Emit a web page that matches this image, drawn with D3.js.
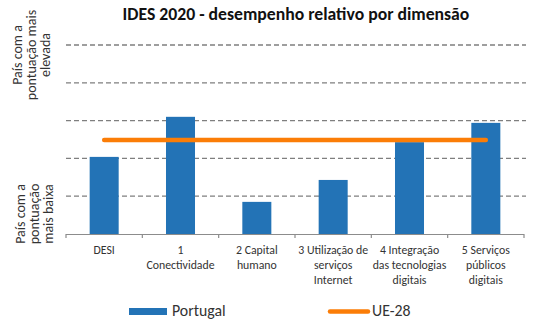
<!DOCTYPE html>
<html><head><meta charset="utf-8">
<script src="https://cdn.jsdelivr.net/npm/d3@7"></script>
<style>body{margin:0;background:#fff}svg{display:block}</style>
</head><body>
<script>
const categories = [
  ["DESI"],
  ["1", "Conectividade"],
  ["2 Capital", "humano"],
  ["3 Utilização de", "serviços", "Internet"],
  ["4 Integração", "das tecnologias", "digitais"],
  ["5 Serviços", "públicos", "digitais"]
];
const portugal = [2.04, 3.1, 0.85, 1.43, 2.43, 2.94];
const ue28 = [2.49, 2.49, 2.49, 2.49, 2.49, 2.49];
const yTicks = [1, 2, 3, 4, 5];
const title = "IDES 2020 - desempenho relativo por dimensão";
const seriesNames = ["Portugal", "UE-28"];

(function () {
const W = 533, H = 327;
const font = "Carlito, Calibri, 'Open Sans', sans-serif";
const svg = d3.select("body").append("svg").attr("width", W).attr("height", H)
  .style("font-family", font);

const mLeft = 66, mRight = 524, mTop = 45, mBottom = 234;
const x = d3.scaleBand().domain(d3.range(categories.length)).range([mLeft, mRight]).paddingInner(0.62).paddingOuter(0.31);
const xb = d3.scaleBand().domain(d3.range(categories.length)).range([mLeft, mRight]);
const y = d3.scaleLinear().domain([0, 5]).range([mBottom, mTop]);

svg.append("text").attr("x", 296).attr("y", 20).attr("text-anchor", "middle")
  .attr("font-weight", "bold").attr("font-size", 17.7).attr("fill", "#111").text(title);

svg.append("g").selectAll("line").data(yTicks).join("line")
  .attr("x1", mLeft).attr("x2", 526).attr("y1", d => y(d)).attr("y2", d => y(d))
  .attr("stroke", "#7f7f7f").attr("stroke-width", 1.3).attr("stroke-dasharray", "5,3");

svg.append("g").selectAll("rect").data(portugal).join("rect")
  .attr("x", (d, i) => x(i)).attr("width", x.bandwidth())
  .attr("y", d => y(d)).attr("height", d => y(0) - y(d))
  .attr("fill", "#2373b6");

const ax = svg.append("g");
ax.append("line").attr("x1", mLeft).attr("x2", mRight).attr("y1", mBottom + 0.5).attr("y2", mBottom + 0.5)
  .attr("stroke", "#8c8c8c").attr("stroke-width", 1.2);
ax.selectAll("line.t").data(d3.range(categories.length + 1)).join("line").attr("class", "t")
  .attr("x1", i => i < categories.length ? xb(i) : mRight).attr("x2", i => i < categories.length ? xb(i) : mRight)
  .attr("y1", mBottom).attr("y2", mBottom + 4).attr("stroke", "#8c8c8c").attr("stroke-width", 1.2);

const line = d3.line().x((d, i) => x(i) + x.bandwidth() / 2).y(d => y(d));
svg.append("path").datum(ue28).attr("d", line).attr("fill", "none")
  .attr("stroke", "#fb7d07").attr("stroke-width", 4.5).attr("stroke-linecap", "round");

const lab = svg.append("g").attr("font-size", 11.8).attr("fill", "#333").attr("text-anchor", "middle");
categories.forEach((lines, i) => {
  const t = lab.append("text").attr("x", xb(i) + xb.bandwidth() / 2).attr("y", 254);
  lines.forEach((s, j) => t.append("tspan").attr("x", xb(i) + xb.bandwidth() / 2).attr("dy", j ? 15 : 0).text(s));
});

function sideLabel(lines, cx, cy) {
  const t = svg.append("text").attr("transform", `translate(${cx},${cy}) rotate(-90)`)
    .attr("text-anchor", "middle").attr("font-size", 14).attr("fill", "#333");
  lines.forEach((s, j) => t.append("tspan").attr("x", 0).attr("dy", j ? 14 : 0).text(s));
}
sideLabel(["País com a", "pontuação mais", "elevada"], 22, 55);
sideLabel(["País com a", "pontuação", "mais baixa"], 25, 214);

const lg = svg.append("g").attr("font-size", 15.8).attr("fill", "#333");
lg.append("rect").attr("x", 129).attr("y", 308).attr("width", 38).attr("height", 7).attr("fill", "#2373b6");
lg.append("text").attr("x", 172).attr("y", 316).text(seriesNames[0]);
lg.append("line").attr("x1", 330).attr("x2", 368).attr("y1", 311.5).attr("y2", 311.5)
  .attr("stroke", "#fb7d07").attr("stroke-width", 4.5).attr("stroke-linecap", "round");
lg.append("text").attr("x", 372).attr("y", 316).text(seriesNames[1]);
})();
</script>
</body></html>
